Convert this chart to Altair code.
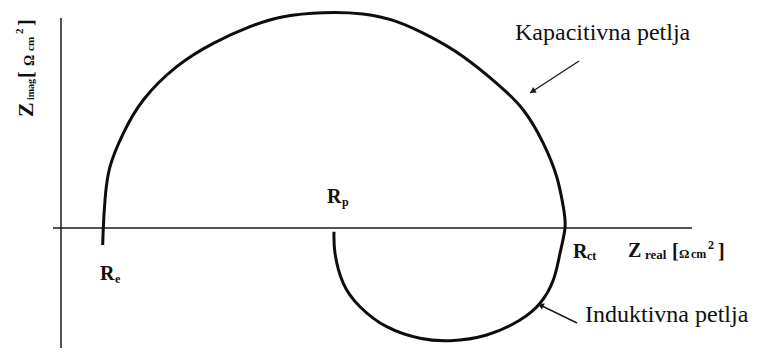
import altair as alt
import pandas as pd

# Nyquist curve (Z_real, Z_imag), in arbitrary units
curve_x = [4.17, 4.23, 4.4, 4.9, 6.23, 8.23, 11.57, 15.23, 18.9, 22.23, 26.23,
           30.2, 33.57, 36.9, 40.23, 43.57, 46.23, 48.23, 49.57, 50.23, 50.4,
           49.9, 49.23, 47.9, 45.9, 42.57, 38.9, 35.9, 32.57, 29.9, 28.23, 27.4, 27.3]
curve_y = [-1.7, 0.0, 2.8, 6.13, 9.47, 12.8, 16.13, 18.47, 20.13, 21.13, 21.53,
           21.4, 20.63, 19.13, 17.13, 14.47, 11.8, 8.47, 5.13, 2.13, 0.0,
           -2.53, -5.2, -7.53, -9.2, -10.7, -11.27, -11.03, -9.87, -7.87, -5.53, -2.53, -0.37]

# axes
axis_x1 = [0.0, -0.8]
axis_x2 = [0.0, 63.1]
axis_y1 = [21.0, 0.0]
axis_y2 = [-12.0, 0.0]

# annotation arrows (tail -> head)
arrow_x1 = [51.8, 51.6]
arrow_y1 = [16.7, -9.5]
arrow_x2 = [46.9, 47.7]
arrow_y2 = [13.5, -7.6]
head_x = [47.15, 47.97]
head_y = [13.66, -7.73]
head_angle = [236.8, 296.7]

# bold labels
lab_text = ["R", "e", "R", "p", "R", "ct",
            "Z", "real", "[", "Ω", "cm", "2", "]",
            "Z", "imag", "[", "Ω", "cm", "2", "]"]
lab_x = [3.9, 5.4, 26.6, 28.1, 51.2, 52.6,
         56.7, 58.4, 61.1, 61.8, 63.0, 64.7, 65.7,
         -2.8, -2.7, -2.8, -2.7, -2.7, -3.8, -2.8]
lab_y = [-5.2, -5.5, 2.5, 2.2, -3.0, -3.2,
         -2.9, -3.1, -3.0, -3.0, -3.0, -2.1, -3.0,
         11.1, 12.8, 15.0, 16.2, 17.7, 19.4, 20.2]
lab_size = [20, 12, 20, 12, 20, 12,
            20, 13, 20, 13, 12, 12, 20,
            22, 10, 20, 14, 11, 11, 20]
lab_angle = [0, 0, 0, 0, 0, 0,
             0, 0, 0, 0, 0, 0, 0,
             270, 270, 270, 270, 270, 270, 270]

# plain annotations
note_text = ["Kapacitivna petlja", "Induktivna petlja"]
note_x = [45.4, 52.4]
note_y = [18.8, -9.4]

X_DOMAIN = [-5.3, 69.2]
Y_DOMAIN = [-12.0, 22.0]

xs = alt.Scale(domain=X_DOMAIN, nice=False, zero=False)
ys = alt.Scale(domain=Y_DOMAIN, nice=False, zero=False)

curve_df = pd.DataFrame({"x": curve_x, "y": curve_y, "order": list(range(len(curve_x)))})
axis_df = pd.DataFrame({"x": axis_x1, "x2": axis_x2, "y": axis_y1, "y2": axis_y2})
arrow_df = pd.DataFrame({"x": arrow_x1, "x2": arrow_x2, "y": arrow_y1, "y2": arrow_y2})
head_df = pd.DataFrame({"x": head_x, "y": head_y, "angle": head_angle})
lab_df = pd.DataFrame({"x": lab_x, "y": lab_y, "text": lab_text,
                       "size": lab_size, "angle": lab_angle})
note_df = pd.DataFrame({"x": note_x, "y": note_y, "text": note_text})

X = lambda: alt.X("x:Q", scale=xs, axis=None)
Y = lambda: alt.Y("y:Q", scale=ys, axis=None)

axes = alt.Chart(axis_df).mark_rule(color="#1a1a1a", strokeWidth=1.5).encode(
    x=X(), x2="x2:Q", y=Y(), y2="y2:Q")

curve = alt.Chart(curve_df).mark_line(
    color="#0d0d0d", strokeWidth=3, interpolate="natural").encode(
    x=X(), y=Y(), order="order:Q")

arrows = alt.Chart(arrow_df).mark_rule(color="#1a1a1a", strokeWidth=1.4).encode(
    x=X(), x2="x2:Q", y=Y(), y2="y2:Q")

heads = alt.Chart(head_df).mark_point(
    shape="triangle-up", filled=True, color="#1a1a1a", size=45, opacity=1).encode(
    x=X(), y=Y(), angle=alt.Angle("angle:Q", scale=None))

labels = alt.Chart(lab_df).mark_text(
    align="left", baseline="alphabetic", font="Liberation Serif",
    fontWeight="bold", color="#111111").encode(
    x=X(), y=Y(), text="text:N",
    size=alt.Size("size:Q", scale=None, legend=None),
    angle=alt.Angle("angle:Q", scale=None))

notes = alt.Chart(note_df).mark_text(
    align="left", baseline="alphabetic", font="Liberation Serif",
    fontSize=24, color="#111111").encode(
    x=X(), y=Y(), text="text:N")

chart = alt.layer(axes, curve, arrows, heads, labels, notes).properties(
    width=745, height=340, padding=0, autosize=alt.AutoSizeParams(type="none"),
    background="white"
).configure_view(stroke=None)

chart.save("out.html", embed_options={"renderer": "svg", "actions": False})
